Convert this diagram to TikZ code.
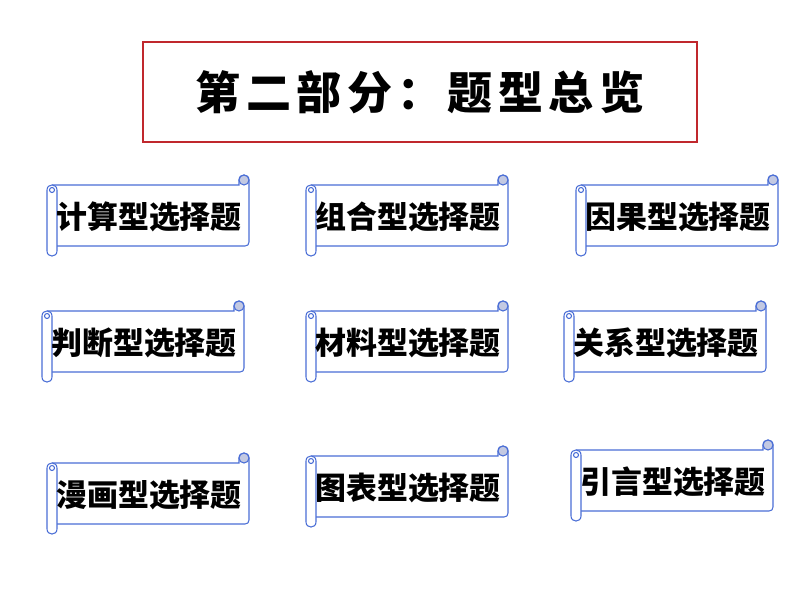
\documentclass[tikz,border=0pt]{standalone}
\usepackage{fontspec}
\newfontfamily\cjk{Noto Sans CJK SC}
\definecolor{titlered}{HTML}{C0282D}
\definecolor{scrollblue}{HTML}{4A6ED6}
\definecolor{curlfill}{HTML}{C3C9E2}
\begin{document}
\begin{tikzpicture}[
        x=0.025cm, y=-0.025cm,
        titlebox/.style={rectangle, draw=titlered, line width=0.9pt, minimum width=13.85cm, minimum height=2.5cm, inner sep=0pt},
        titletext/.style={font=\cjk\bfseries\fontsize{32}{32}\selectfont\addfontfeature{LetterSpace=12}},
        scrollline/.style={draw=scrollblue, line width=0.75pt},
        scrolltext/.style={font=\cjk\bfseries\fontsize{22}{22}\selectfont, inner sep=0pt},
        scroll/.pic={
            % body and right roll
            \draw[scrollline, fill=white] (5,10) -- (192,10) -- (192,5)
                .. controls (192,-1.7) and (202,-1.7) .. (202,5) -- (202,67)
                .. controls (202,69.5) and (200.5,71) .. (198,71) -- (10,71);
            \draw[scrollline, fill=curlfill] (197,5) circle[radius=5];
            % left roll
            \draw[scrollline, fill=white] (0,15) -- (0,76)
                .. controls (0,82.7) and (10,82.7) .. (10,76) -- (10,15)
                .. controls (10,8.3) and (0,8.3) .. (0,15);
            \draw[scrollline] (5,15) circle[radius=2.5];
            % label
            \node[scrolltext] (-text) at (102,42) {#1};
        }
    ]
        \path[use as bounding box, fill=white] (0,0) rectangle (800,600);

        % Title
        \node[titlebox, titletext] (title) at (420,92) {第二部分：题型总览};

        % First row
        \pic (calc) at (47,175) {scroll={计算型选择题}};
        \pic (combo) at (306,175) {scroll={组合型选择题}};
        \pic (cause) at (576,175) {scroll={因果型选择题}};

        % Second row
        \pic (judge) at (42,301) {scroll={判断型选择题}};
        \pic (material) at (306,301) {scroll={材料型选择题}};
        \pic (relation) at (564,301) {scroll={关系型选择题}};

        % Third row
        \pic (cartoon) at (47,453) {scroll={漫画型选择题}};
        \pic (chart) at (306,446) {scroll={图表型选择题}};
        \pic (quote) at (571,440) {scroll={引言型选择题}};
    \end{tikzpicture}
\end{document}
